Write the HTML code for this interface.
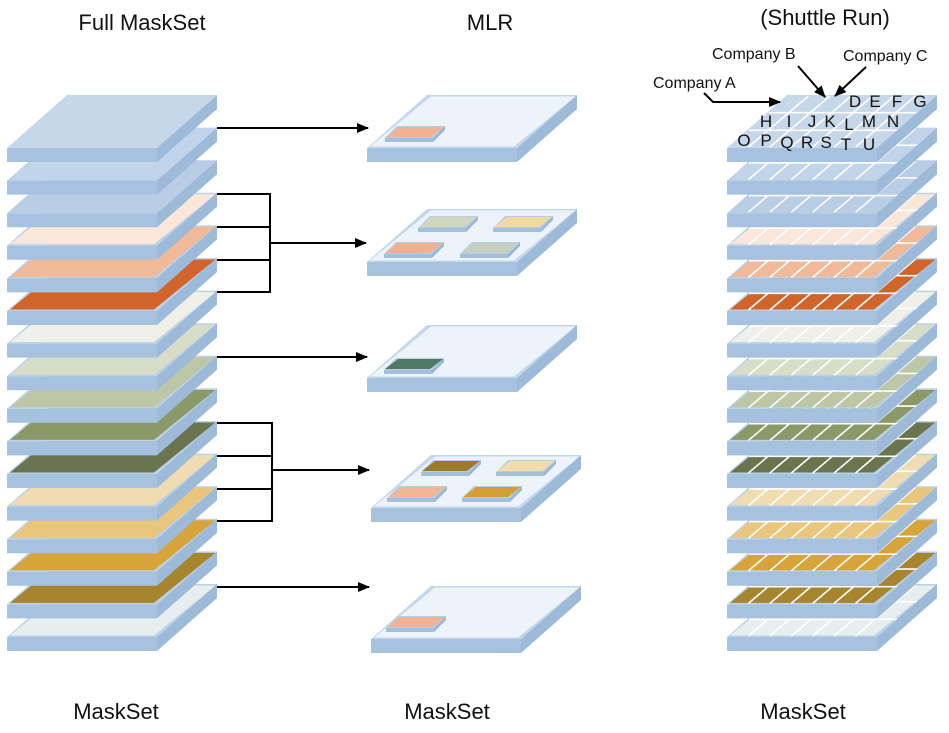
<!DOCTYPE html>
<html><head><meta charset="utf-8"><style>
html,body{margin:0;padding:0;background:#fff;width:949px;height:733px;overflow:hidden}
svg{display:block}
text{font-family:"Liberation Sans",Arial,sans-serif;fill:#111}
</style></head><body>
<svg id="s" width="949" height="733" viewBox="0 0 949 733" xmlns="http://www.w3.org/2000/svg">
<defs>
<marker id="ah" markerWidth="12" markerHeight="10" refX="11" refY="5" orient="auto" markerUnits="userSpaceOnUse">
<path d="M0,0 L12,5 L0,10 Z" fill="#000"/></marker>
</defs>
<g id="plates"></g>
<g stroke="#000" stroke-width="2" fill="none">
<line x1="217" y1="128" x2="368" y2="128" marker-end="url(#ah)"/>
<polyline points="217,194 270,194 270,292 217,292"/>
<line x1="217" y1="227" x2="270" y2="227"/>
<line x1="217" y1="260" x2="270" y2="260"/>
<line x1="270" y1="243" x2="366" y2="243" marker-end="url(#ah)"/>
<line x1="217" y1="357" x2="367" y2="357" marker-end="url(#ah)"/>
<polyline points="217,423 272,423 272,521 217,521"/>
<line x1="217" y1="456" x2="272" y2="456"/>
<line x1="217" y1="489" x2="272" y2="489"/>
<line x1="272" y1="470" x2="369" y2="470" marker-end="url(#ah)"/>
<line x1="217" y1="587" x2="369" y2="587" marker-end="url(#ah)"/>
<line x1="798" y1="66" x2="825" y2="97" marker-end="url(#ah)"/>
<line x1="866" y1="67" x2="835" y2="96" marker-end="url(#ah)"/>
<polyline points="704,93 713,102 780,102" marker-end="url(#ah)"/>
</g>
<g font-size="22">
<text x="142" y="30" text-anchor="middle">Full MaskSet</text>
<text x="490" y="30" text-anchor="middle">MLR</text>
<text x="825" y="25" text-anchor="middle">(Shuttle Run)</text>
<text x="116" y="719" text-anchor="middle">MaskSet</text>
<text x="447" y="719" text-anchor="middle">MaskSet</text>
<text x="803" y="719" text-anchor="middle">MaskSet</text>
</g>
<g font-size="16">
<text x="712" y="59">Company B</text>
<text x="843" y="61">Company C</text>
<text x="653" y="88">Company A</text>
</g>
<g font-size="17" text-anchor="middle">
<text x="855" y="107">D</text><text x="875" y="107">E</text><text x="897" y="107">F</text><text x="920" y="107">G</text>
<text x="766" y="127">H</text><text x="789" y="127">I</text><text x="812" y="127">J</text><text x="830" y="127">K</text><text x="849" y="130">L</text><text x="869" y="127">M</text><text x="893" y="127">N</text>
<text x="744" y="146">O</text><text x="766" y="146">P</text><text x="787" y="148">Q</text><text x="807" y="148">R</text><text x="826" y="148">S</text><text x="846" y="150">T</text><text x="869" y="150">U</text>
</g>
</svg>
<script>
(function(){
var g=document.getElementById('plates');var NS='http://www.w3.org/2000/svg';
function poly(pts,fill,stroke,sw){var p=document.createElementNS(NS,'polygon');p.setAttribute('points',pts.map(function(a){return a[0].toFixed(1)+','+a[1].toFixed(1)}).join(' '));p.setAttribute('fill',fill);if(stroke){p.setAttribute('stroke',stroke);p.setAttribute('stroke-width',sw||1);}g.appendChild(p);}
function line(x1,y1,x2,y2,c,w){var l=document.createElementNS(NS,'line');l.setAttribute('x1',x1);l.setAttribute('y1',y1);l.setAttribute('x2',x2);l.setAttribute('y2',y2);l.setAttribute('stroke',c);l.setAttribute('stroke-width',w);g.appendChild(l);}
var W=150,SK=60,D=53,T=14;
function plate(x0,yb,top,grid,base){
 base=base||'#bcd1e8';
 poly([[x0+SK,yb],[x0+SK+W,yb],[x0+W,yb+D],[x0,yb+D]],base);
 if(top){var i=2.5;poly([[x0+SK+i*1.6,yb+i*0.6],[x0+SK+W-i*0.6,yb+i*0.6],[x0+W-i*1.2,yb+D-i*0.6],[x0+i*1.2,yb+D-i*0.6]],top);}
 if(grid){
  for(var k=1;k<7;k++){var fx=x0+k*W/7;line(fx,yb+D-1,fx+SK,yb+1,'#fff',1.6);}
  for(var r=1;r<3;r++){var f=r/3;line(x0+SK*(1-f)+2,yb+D*f,x0+SK*(1-f)+W+3,yb+D*f,'#fff',1.6);}
 }
 poly([[x0,yb+D],[x0+W,yb+D],[x0+W,yb+D+T],[x0,yb+D+T]],'#a7c2df');
 poly([[x0+W,yb+D],[x0+SK+W,yb],[x0+SK+W,yb+T],[x0+W,yb+D+T]],'#9dbad9');
}
var cols=['#c6d7ea','#c1d4e9','#b9cde6','#fbe6da','#f0b998','#d0642b','#eff1e8','#d8ddc8','#bdc6a5','#8b9868','#6a744f','#efdcb0','#e9c67c','#d6a43a','#a7852f','#e6eef0'];
for(var n=15;n>=0;n--){
 var yb=95+n*32.6;
 var c=n<3?null:cols[n];
 plate(7,yb,c,false,n<3?cols[n]:null);
 plate(727,yb,c,true,n<3?cols[n]:null);
}
var mids=[[367,95],[367,209],[367,325],[371,455],[371,586]];
mids.forEach(function(m){plate(m[0],m[1],'#edf3fa',false,'#c3d7ea');});
function chip(fx,fy,c){var w=48,s=12,d=12,t=4;
 poly([[fx+s,fy-d],[fx+s+w,fy-d],[fx+w,fy],[fx,fy]],'#b6cde4');
 poly([[fx+s+2,fy-d+1],[fx+s+w-1,fy-d+1],[fx+w-2,fy-1],[fx+1,fy-1]],c);
 poly([[fx,fy],[fx+w,fy],[fx+w,fy+t],[fx,fy+t]],'#a3bfdc');
 poly([[fx+w,fy],[fx+w+s,fy-d],[fx+w+s,fy-d+t],[fx+w,fy+t]],'#98b6d6');
}
chip(385,138,'#efb293');
chip(418,228,'#d2d6bd');chip(493,228,'#f2d9a0');
chip(384,254,'#efb190');chip(460,254,'#c7cfc2');
chip(384,370,'#4f7b66');
chip(421,472,'#9c7a2c');chip(496,472,'#f1dcaa');
chip(387,498,'#efb595');chip(462,498,'#d19f33');
chip(386,628,'#efb293');
})();
</script>
</body></html>
